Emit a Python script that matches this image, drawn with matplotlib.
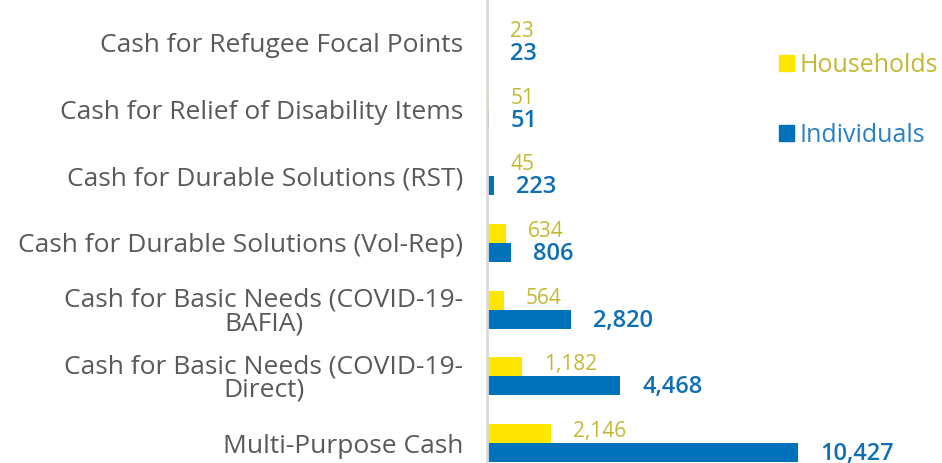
import numpy as np
import matplotlib.pyplot as plt
from matplotlib.patches import Patch

categories = [
    "Cash for Refugee Focal Points",
    "Cash for Relief of Disability Items",
    "Cash for Durable Solutions (RST)",
    "Cash for Durable Solutions (Vol-Rep)",
    "Cash for Basic Needs (COVID-19-\nBAFIA)",
    "Cash for Basic Needs (COVID-19-\nDirect)",
    "Multi-Purpose Cash",
]
households = [23, 51, 45, 634, 564, 1182, 2146]
individuals = [23, 51, 223, 806, 2820, 4468, 10427]

YELLOW = "#ffe600"
YELLOW_TXT = "#c4b833"
BLUE = "#0072bc"
BLUE_TXT = "#0f6fb5"
GREY_TXT = "#595959"

plt.rcParams['font.family'] = ['Open Sans', 'DejaVu Sans']


def main():
    fig = plt.figure(figsize=(9.42, 4.63), dpi=100)
    # axis starts at x=487 px, runs to right edge; bottom row is clipped by the figure
    ax = fig.add_axes([487 / 942, 0, 1 - 487 / 942, 1])

    y = np.arange(len(categories))
    h = 0.285
    bh = ax.barh(y - h / 2, households, height=h, color=YELLOW, label="Households")
    bi = ax.barh(y + h / 2, individuals, height=h, color=BLUE, label="Individuals")

    hl = ax.bar_label(bh, labels=[f"{v:,}" for v in households], padding=16,
                      color=YELLOW_TXT, fontsize=15)
    il = ax.bar_label(bi, labels=[f"{v:,}" for v in individuals], padding=16,
                      color=BLUE_TXT, fontsize=17, fontweight='semibold')
    # nudge the two label rows apart a little so they don't collide
    for t in hl:
        t.xyann = (16, 1.5)
    for t in il:
        t.xyann = (16, -1)

    ax.set_xlim(0, 455 / 0.02983)
    ax.set_ylim(6 + 20 / 66.7, -43 / 66.7)

    ax.set_yticks(y)
    ax.set_yticklabels(categories, fontsize=19, color=GREY_TXT, linespacing=0.92)
    for lbl in ax.get_yticklabels():
        lbl.set_multialignment('center')
    ax.tick_params(axis='y', length=0, pad=17)
    ax.set_xticks([])

    for side in ['top', 'right', 'bottom']:
        ax.spines[side].set_visible(False)
    ax.spines['left'].set_color('#d9d9d9')
    ax.spines['left'].set_linewidth(2)

    leg = fig.legend(handles=[Patch(color=YELLOW), Patch(color=BLUE)],
                     labels=["Households", "Individuals"],
                     loc='upper left', bbox_to_anchor=(756 / 942, 1 - 30 / 463),
                     frameon=False, fontsize=18, handlelength=0.6, handleheight=0.6,
                     handletextpad=0.25, labelspacing=1.8)
    leg.get_texts()[0].set_color(YELLOW_TXT)
    leg.get_texts()[1].set_color("#2a80c6")

    fig.savefig("out.png", dpi=100)


if __name__ == "__main__":
    main()
